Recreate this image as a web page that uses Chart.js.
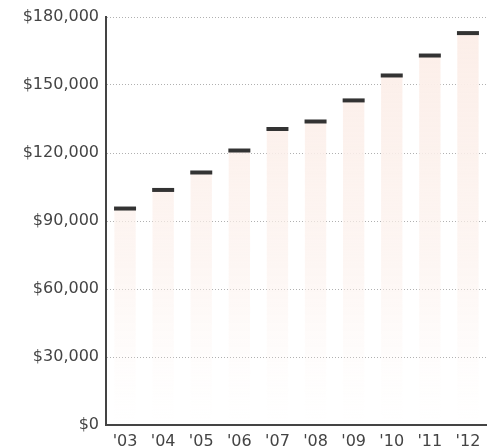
<!DOCTYPE html>
<html>
<head>
<meta charset="utf-8">
<script src="https://cdn.jsdelivr.net/npm/chart.js@4/dist/chart.umd.min.js"></script>
<style>
  html, body { margin: 0; padding: 0; background: #ffffff; overflow: hidden; width: 487px; height: 448px; }
  #wrap { position: absolute; left: 0; top: 0; width: 502px; height: 448px; }
</style>
</head>
<body>
<div id="wrap"><canvas id="c"></canvas></div>
<script>
const categories = ["'03", "'04", "'05", "'06", "'07", "'08", "'09", "'10", "'11", "'12"];
const values = [95500, 103700, 111400, 121100, 130600, 133900, 143200, 154200, 163000, 172900];
const yTicks = [0, 30000, 60000, 90000, 120000, 150000, 180000];

function barGradient(ctx) {
  const chart = ctx.chart;
  const area = chart.chartArea;
  if (!area) return '#fdf2ee';
  const g = chart.ctx.createLinearGradient(0, area.bottom, 0, area.top);
  g.addColorStop(0, 'rgba(252,240,235,0)');
  g.addColorStop(0.15, 'rgba(252,240,235,0.15)');
  g.addColorStop(0.4, 'rgba(252,240,235,0.6)');
  g.addColorStop(0.7, 'rgba(252,240,235,0.9)');
  g.addColorStop(1, 'rgba(252,238,232,1)');
  return g;
}

new Chart(document.getElementById('c'), {
  data: {
    labels: categories,
    datasets: [
      {
        type: 'line',
        data: values,
        showLine: false,
        pointStyle: 'line',
        pointRadius: 11,
        pointHoverRadius: 11,
        pointBorderWidth: 4,
        pointHoverBorderWidth: 4,
        pointBorderColor: '#333333',
        pointBackgroundColor: '#333333',
        order: 0
      },
      {
        type: 'bar',
        data: values,
        backgroundColor: barGradient,
        borderWidth: 0,
        barPercentage: 0.56,
        categoryPercentage: 1,
        order: 1
      }
    ]
  },
  options: {
    responsive: true,
    maintainAspectRatio: false,
    animation: false,
    events: [],
    layout: { padding: { top: 17, right: 1, bottom: 0, left: 0 } },
    plugins: { legend: { display: false }, tooltip: { enabled: false } },
    scales: {
      x: {
        grid: { display: false, drawTicks: false },
        border: { display: true, color: '#444444', width: 2 },
        ticks: {
          padding: 7,
          color: '#444444',
          font: { family: 'DejaVu Sans', size: 16 }
        },
        afterFit: (s) => { s.height = 23; }
      },
      y: {
        min: 0,
        max: 180000,
        afterBuildTicks: (s) => { s.ticks = yTicks.map(v => ({ value: v })); },
        grid: { color: '#b0b0b0', lineWidth: 1, drawTicks: false },
        border: { display: true, color: '#444444', width: 2, dash: [1, 2] },
        ticks: {
          padding: 7,
          color: '#444444',
          font: { family: 'DejaVu Sans', size: 16 },
          callback: (v) => '$' + Number(v).toLocaleString('en-US')
        },
        afterFit: (s) => { s.width = 106; }
      }
    }
  }
});
</script>
</body>
</html>
